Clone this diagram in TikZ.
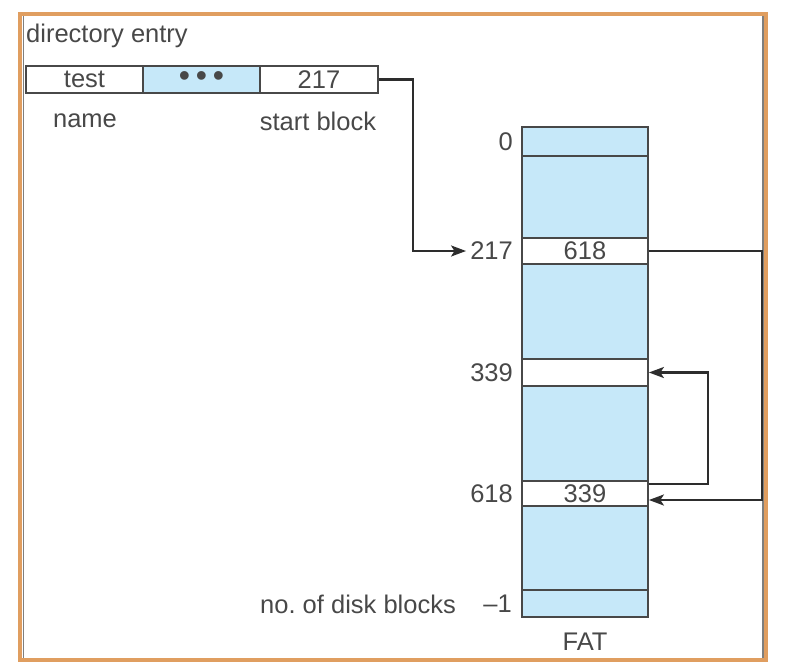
\documentclass[tikz,border=0pt]{standalone}
\usepackage{fontspec}
\setmainfont{Liberation Sans}
\usetikzlibrary{arrows.meta,calc}
\definecolor{cellblue}{RGB}{198,232,249}
\definecolor{ink}{RGB}{72,72,72}
\definecolor{wire}{RGB}{45,45,45}
\definecolor{rim}{RGB}{224,158,96}
\frenchspacing
\begin{document}
\begin{tikzpicture}[x=1pt,y=-1pt,
  every node/.style={font=\fontsize{25.5}{28}\selectfont, text=ink, inner sep=0pt},
  cell/.style={draw=ink, line width=1.8pt, minimum width=126pt},
  dcell/.style={draw=ink, line width=1.8pt, minimum height=27pt},
  label/.style={anchor=east},
  link/.style={draw=wire, line width=2.3pt},
  arr/.style={link, -{Stealth[length=15pt,width=11pt,inset=3.5pt]}}]
\useasboundingbox (0,0) rectangle (800,669);
% outer frame
\draw[rim, line width=4pt] (20,14) rectangle (766,660);
\draw[ink!70, line width=1.2pt] (23.5,16) -- (23.5,658);
\draw[ink!70, line width=1.2pt] (763,16) -- (763,658);

% directory entry
\node[anchor=west] (title) at (26,36) {directory entry};
\node[dcell, minimum width=117pt] (dname) at (84.5,79.5) {test};
\node[dcell, minimum width=117pt, fill=cellblue] (ddots) at (201.5,79.5)
  {\fontsize{32}{24}\selectfont\textbullet\hspace{5.8pt}\textbullet\hspace{5.8pt}\textbullet};
\node[dcell, minimum width=118pt] (dstart) at (319,79.5) {217};
\node (lname) at (85,121) {name};
\node (lstart) at (318,121) {start block};

% FAT column
\node[cell, minimum height=29pt, fill=cellblue] (f0) at (585,141.5) {};
\node[cell, minimum height=82pt, fill=cellblue] (fa) at (585,197) {};
\node[cell, minimum height=26pt] (f217) at (585,251) {618};
\node[cell, minimum height=95pt, fill=cellblue] (fb) at (585,311.5) {};
\node[cell, minimum height=27pt] (f339) at (585,372.5) {};
\node[cell, minimum height=95pt, fill=cellblue] (fc) at (585,433.5) {};
\node[cell, minimum height=25pt] (f618) at (585,493.5) {339};
\node[cell, minimum height=84pt, fill=cellblue] (fd) at (585,548) {};
\node[cell, minimum height=27pt, fill=cellblue] (fend) at (585,603.5) {};
\node (fat) at (585,642) {FAT};

% block numbers
\node[label] (n0) at (513,141.5) {0};
\node[label] (n217) at (513,251) {217};
\node[label] (n339) at (513,372.5) {339};
\node[label] (n618) at (513,493.5) {618};
\node[label] (nend) at (512,604) {\textendash1};
\node[label] (ndisk) at (456,604) {no. of disk blocks};

% chain pointers
\coordinate (ch0) at (413,0);
\coordinate (ch1) at (762,0);
\coordinate (ch2) at (708,0);
\draw[arr] (dstart.east) -- (dstart.east -| ch0) |- ($(n217.west)+(-4,0)$);
\draw[arr] (f217.east) -- (f217.east -| ch1) |- ($(f618.east)+(0,6.5)$);
\draw[arr] ($(f618.east)+(0,-9.5)$) -- ($(f618.east -| ch2)+(0,-9.5)$) |- (f339.east);
\end{tikzpicture}
\end{document}
